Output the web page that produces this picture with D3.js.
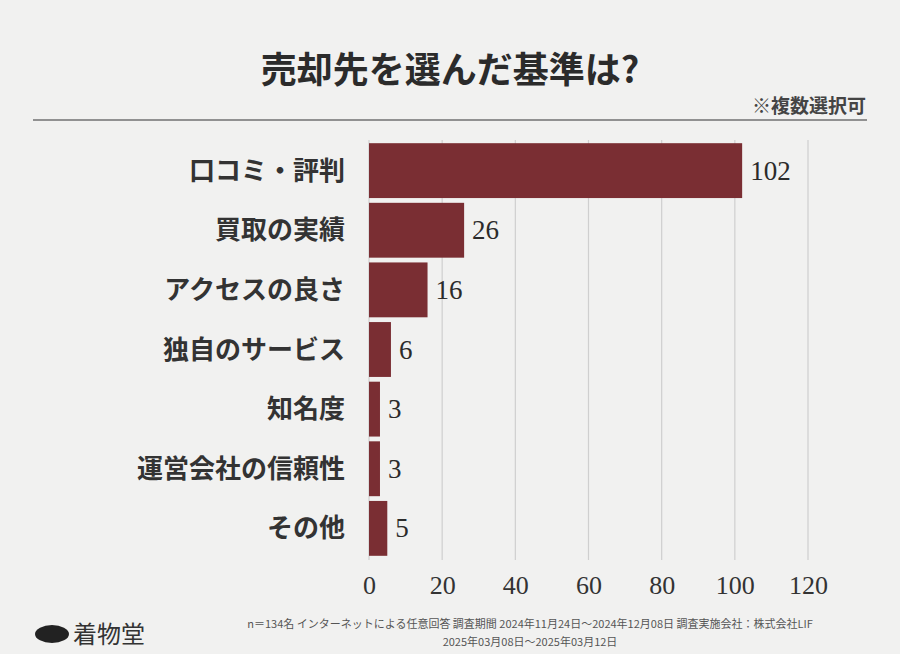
<!DOCTYPE html>
<html><head><meta charset="utf-8">
<script src="https://cdn.jsdelivr.net/npm/d3@7"></script>
<style>body{margin:0;background:#f1f1f0}</style></head>
<body><svg id="c" width="900" height="654"></svg>
<script>
const categories=["口コミ・評判","買取の実績","アクセスの良さ","独自のサービス","知名度","運営会社の信頼性","その他"];
const values=[102,26,16,6,3,3,5];
const ticks=[0,20,40,60,80,100,120];
const svg=d3.select("#c");
const jp="'Noto Sans CJK JP', sans-serif";
const num="'Liberation Serif', 'DejaVu Serif', serif";
svg.append("rect").attr("width",900).attr("height",654).attr("fill","#f1f1f0");
svg.append("text").attr("x",450).attr("y",83).attr("text-anchor","middle").attr("font-family",jp).attr("font-weight",700).attr("font-size",36).attr("fill","#2b2b2b").text("売却先を選んだ基準は?");
svg.append("text").attr("x",866).attr("y",113).attr("text-anchor","end").attr("font-family",jp).attr("font-weight",700).attr("font-size",19).attr("fill","#444").text("※複数選択可");
svg.append("line").attr("x1",33).attr("x2",867).attr("y1",120).attr("y2",120).attr("stroke","#333").attr("stroke-width",1.2);
const x=d3.scaleLinear().domain([0,120]).range([369,808]);
const y=d3.scaleBand().domain(categories).range([142,557]).paddingInner(0.08).paddingOuter(0.02);
svg.append("g").selectAll("line").data(ticks).join("line").attr("x1",d=>x(d)).attr("x2",d=>x(d)).attr("y1",140).attr("y2",560).attr("stroke","#cfcfcf").attr("stroke-width",1.2);
svg.append("g").selectAll("rect").data(values).join("rect").attr("x",x(0)).attr("y",(d,i)=>y(categories[i])).attr("width",d=>x(d)-x(0)).attr("height",y.bandwidth()).attr("fill","#7a2e33");
svg.append("g").selectAll("text").data(values).join("text").attr("x",d=>x(d)+8).attr("y",(d,i)=>y(categories[i])+y.bandwidth()/2+9).attr("font-family",num).attr("font-size",27).attr("fill","#2b2b2b").text(d=>d);
svg.append("g").selectAll("text").data(categories).join("text").attr("x",345).attr("y",d=>y(d)+y.bandwidth()/2+9).attr("text-anchor","end").attr("font-family",jp).attr("font-weight",700).attr("font-size",26).attr("fill","#333").text(d=>d);
const ax=svg.append("g").attr("transform","translate(0,565)").call(d3.axisBottom(x).tickValues(ticks).tickSize(0).tickPadding(6));
ax.select(".domain").remove();
ax.selectAll("text").attr("font-family",num).attr("font-size",26).attr("fill","#333").attr("dy","0.9em");
svg.append("text").attr("x",530).attr("y",628).attr("text-anchor","middle").attr("font-family",jp).attr("font-size",11).attr("fill","#555").text("n＝134名 インターネットによる任意回答 調査期間 2024年11月24日～2024年12月08日 調査実施会社：株式会社LIF");
svg.append("text").attr("x",530).attr("y",646).attr("text-anchor","middle").attr("font-family",jp).attr("font-size",11).attr("fill","#555").text("2025年03月08日～2025年03月12日");
svg.append("ellipse").attr("cx",52).attr("cy",634).attr("rx",17).attr("ry",9).attr("fill","#222");
svg.append("text").attr("x",73).attr("y",643).attr("font-family",jp).attr("font-size",24).attr("fill","#333").text("着物堂");
</script></body></html>
